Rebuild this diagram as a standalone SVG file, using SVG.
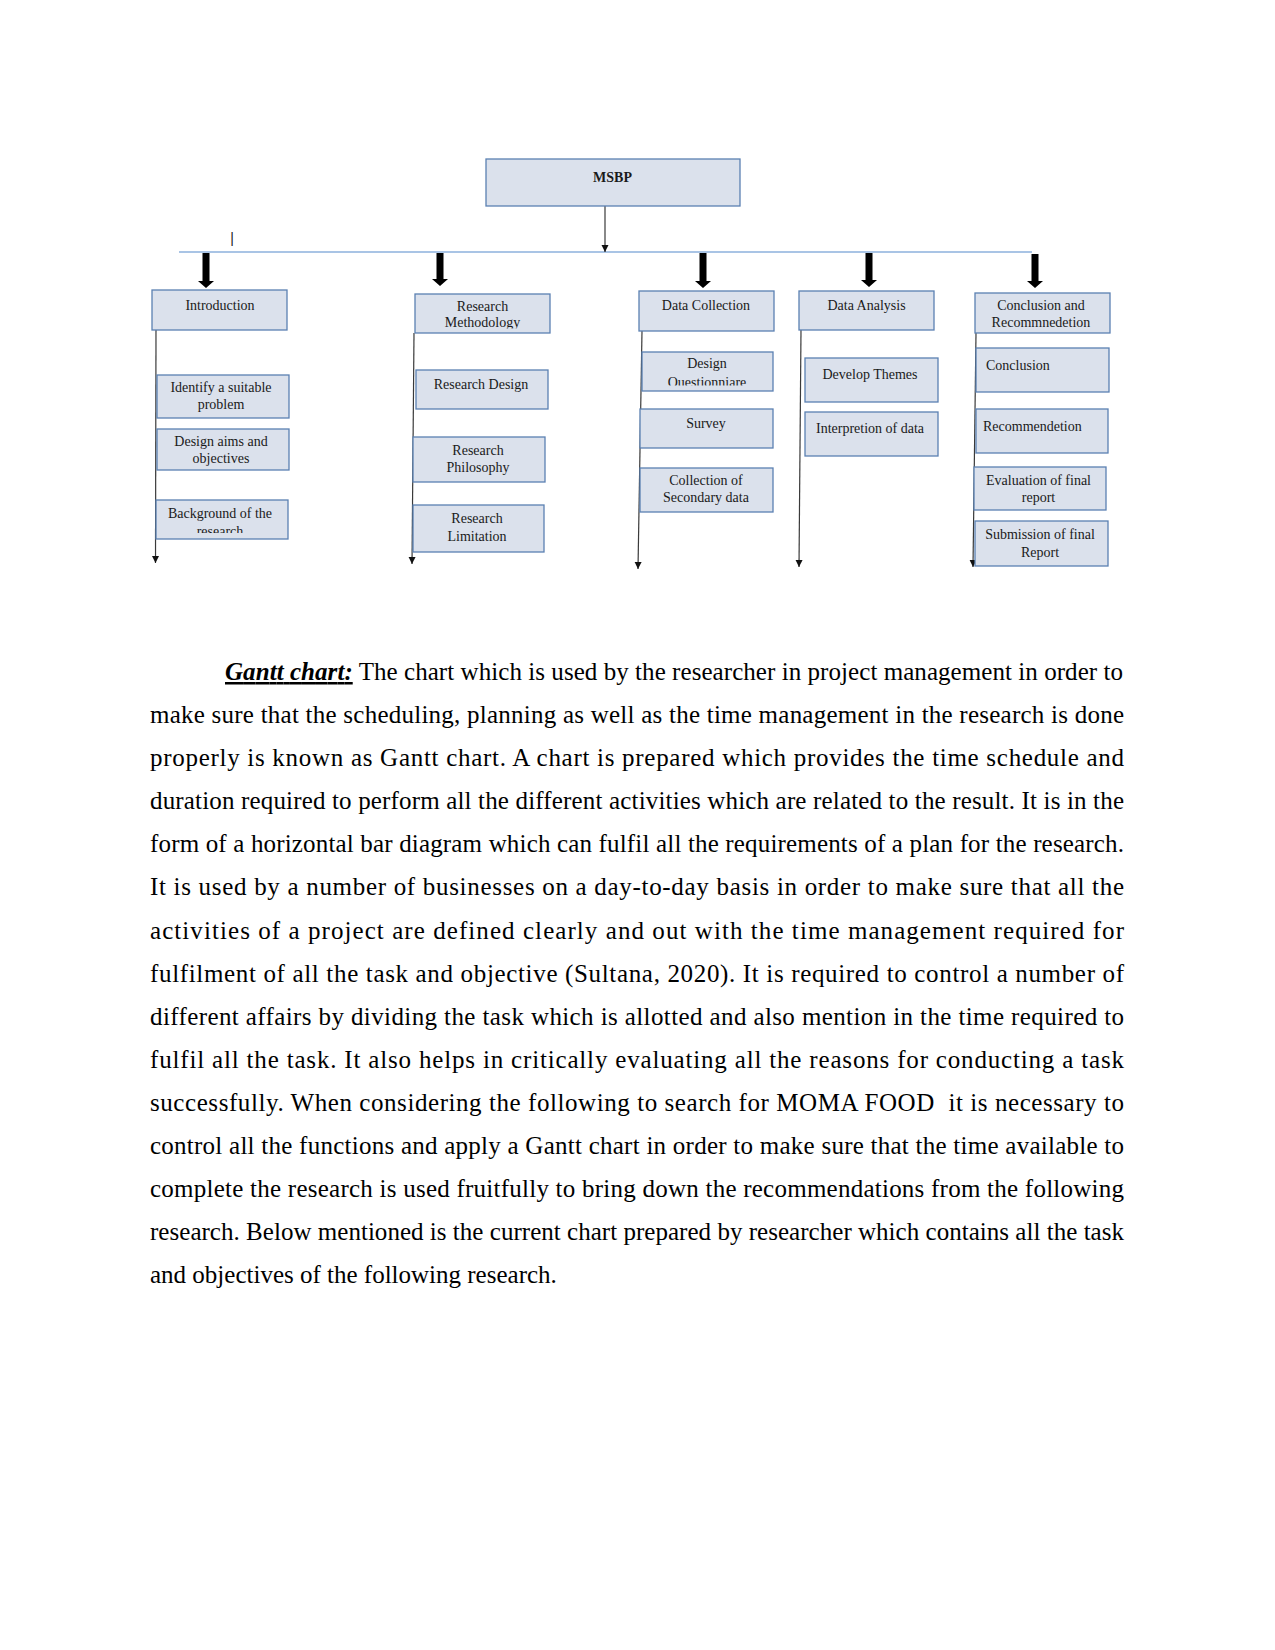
<svg xmlns="http://www.w3.org/2000/svg" width="1275" height="1650" viewBox="0 0 1275 1650">
<style>
.box{fill:#dbe1ec;stroke:#5b80b2;stroke-width:1.3}
.lbl{font-family:"Liberation Serif",serif;font-size:14px;fill:#1a1a1a;text-anchor:middle}
.lft{text-anchor:start}
.thin{stroke:#3a3a3a;stroke-width:1.2;fill:none;marker-end:url(#tip)}
.thick{fill:#000}
.para{font-family:"Liberation Serif",serif;font-size:25px;fill:#000}
</style>
<defs>
<marker id="tip" markerUnits="userSpaceOnUse" markerWidth="8" markerHeight="8" refX="7" refY="4" orient="auto">
<path d="M0,0.5 L7,4 L0,7.5 Z" fill="#111"/>
</marker>
<clipPath id="cRM"><rect x="415" y="294" width="135" height="34.5"/></clipPath>
<clipPath id="cBG"><rect x="156" y="500" width="132" height="33"/></clipPath>
<clipPath id="cDQ"><rect x="642" y="352" width="131" height="33.5"/></clipPath>
</defs>
<rect width="1275" height="1650" fill="#fff"/>

<g id="connectors">
<line x1="179" y1="252" x2="1032" y2="252" stroke="#8db0dc" stroke-width="1.5"/>
<line class="thin" x1="605" y1="206" x2="605" y2="252"/>
<path class="thick" d="M202.5,253 H209.5 V281 H214 L206,288 L198,281 H202.5 Z"/>
<path class="thick" d="M436.5,253 H443.5 V279 H448 L440,286 L432,279 H436.5 Z"/>
<path class="thick" d="M699.5,253 H706.5 V281 H711 L703,288 L695,281 H699.5 Z"/>
<path class="thick" d="M865.5,253 H872.5 V280 H877 L869,287 L861,280 H865.5 Z"/>
<path class="thick" d="M1031.5,254 H1038.5 V281 H1043 L1035,288 L1027,281 H1031.5 Z"/>
<line class="thin" x1="156" y1="330" x2="155.5" y2="563"/>
<line class="thin" x1="414" y1="333" x2="412" y2="564"/>
<line class="thin" x1="642" y1="331" x2="638" y2="569"/>
<line class="thin" x1="801" y1="330" x2="799" y2="567"/>
<line class="thin" x1="976" y1="333" x2="973" y2="567"/>
</g>

<text x="232" y="243" font-family="Liberation Sans,sans-serif" font-size="14" fill="#222" text-anchor="middle">|</text>

<g id="msbp"><rect class="box" x="486" y="159" width="254" height="47"/><text class="lbl" x="612.5" y="182" font-weight="bold">MSBP</text></g>

<g id="introduction"><rect class="box" x="152" y="290" width="135" height="40"/><text class="lbl" x="220" y="310">Introduction</text></g>
<g id="research-methodology"><rect class="box" x="415" y="294" width="135" height="39"/><g clip-path="url(#cRM)"><text class="lbl" x="482.5" y="310.5">Research</text><text class="lbl" x="482.5" y="327">Methodology</text></g></g>
<g id="data-collection"><rect class="box" x="639" y="291" width="135" height="40"/><text class="lbl" x="706" y="310">Data Collection</text></g>
<g id="data-analysis"><rect class="box" x="799" y="291" width="135" height="39"/><text class="lbl" x="866.5" y="310">Data Analysis</text></g>
<g id="conclusion-recommendation"><rect class="box" x="975" y="293" width="135" height="40"/><text class="lbl" x="1041" y="310">Conclusion and</text><text class="lbl" x="1041" y="327">Recommnedetion</text></g>

<g id="identify-problem"><rect class="box" x="157" y="375" width="132" height="43"/><text class="lbl" x="221" y="392">Identify a suitable</text><text class="lbl" x="221" y="409">problem</text></g>
<g id="design-aims"><rect class="box" x="157" y="429" width="132" height="41"/><text class="lbl" x="221" y="446">Design aims and</text><text class="lbl" x="221" y="463">objectives</text></g>
<g id="background"><rect class="box" x="156" y="500" width="132" height="39"/><g clip-path="url(#cBG)"><text class="lbl" x="220" y="517.5">Background of the</text><text class="lbl" x="220" y="535.5">research</text></g></g>

<g id="research-design"><rect class="box" x="416" y="370" width="132" height="39"/><text class="lbl" x="481" y="389">Research Design</text></g>
<g id="research-philosophy"><rect class="box" x="413" y="437" width="132" height="45"/><text class="lbl" x="478" y="455">Research</text><text class="lbl" x="478" y="472">Philosophy</text></g>
<g id="research-limitation"><rect class="box" x="413" y="505" width="131" height="47"/><text class="lbl" x="477" y="523">Research</text><text class="lbl" x="477" y="540.5">Limitation</text></g>

<g id="design-questionnaire"><rect class="box" x="642" y="352" width="131" height="39"/><g clip-path="url(#cDQ)"><text class="lbl" x="707" y="368">Design</text><text class="lbl" x="707" y="387">Questionniare</text></g></g>
<g id="survey"><rect class="box" x="640" y="409" width="133" height="39"/><text class="lbl" x="706" y="427.5">Survey</text></g>
<g id="secondary-data"><rect class="box" x="640" y="468" width="133" height="44"/><text class="lbl" x="706" y="485">Collection of</text><text class="lbl" x="706" y="502">Secondary data</text></g>

<g id="develop-themes"><rect class="box" x="805" y="358" width="133" height="44"/><text class="lbl" x="870" y="379">Develop Themes</text></g>
<g id="interpretation"><rect class="box" x="805" y="412" width="133" height="44"/><text class="lbl" x="870" y="433">Interpretion of data</text></g>

<g id="conclusion"><rect class="box" x="976" y="348" width="133" height="44"/><text class="lbl lft" x="986" y="370">Conclusion</text></g>
<g id="recommendation"><rect class="box" x="976" y="409" width="132" height="44"/><text class="lbl lft" x="983" y="431">Recommendetion</text></g>
<g id="evaluation"><rect class="box" x="974" y="467" width="132" height="43"/><text class="lbl" x="1038.5" y="484.5">Evaluation of final</text><text class="lbl" x="1038.5" y="501.5">report</text></g>
<g id="submission"><rect class="box" x="975" y="521" width="133" height="45"/><text class="lbl" x="1040" y="539">Submission of final</text><text class="lbl" x="1040" y="556.5">Report</text></g>

<g id="paragraph" class="para">
<text x="225" y="680" textLength="898" lengthAdjust="spacing"><tspan font-weight="bold" font-style="italic" text-decoration="underline">Gantt chart:</tspan> The chart which is used by the researcher in project management in order to</text>
<text x="150" y="723.1" textLength="974" lengthAdjust="spacing">make sure that the scheduling, planning as well as the time management in the research is done</text>
<text x="150" y="766.2" textLength="974" lengthAdjust="spacing">properly is known as Gantt chart. A chart is prepared which provides the time schedule and</text>
<text x="150" y="809.2" textLength="974" lengthAdjust="spacing">duration required to perform all the different activities which are related to the result. It is in the</text>
<text x="150" y="852.3" textLength="974" lengthAdjust="spacing">form of a horizontal bar diagram which can fulfil all the requirements of a plan for the research.</text>
<text x="150" y="895.4" textLength="974" lengthAdjust="spacing">It is used by a number of businesses on a day-to-day basis in order to make sure that all the</text>
<text x="150" y="938.5" textLength="974" lengthAdjust="spacing">activities of a project are defined clearly and out with the time management required for</text>
<text x="150" y="981.6" textLength="974" lengthAdjust="spacing">fulfilment of all the task and objective (Sultana, 2020). It is required to control a number of</text>
<text x="150" y="1024.6" textLength="974" lengthAdjust="spacing">different affairs by dividing the task which is allotted and also mention in the time required to</text>
<text x="150" y="1067.7" textLength="974" lengthAdjust="spacing">fulfil all the task. It also helps in critically evaluating all the reasons for conducting a task</text>
<text x="150" y="1110.8" textLength="974" lengthAdjust="spacing">successfully. When considering the following to search for MOMA FOOD&#160; it is necessary to</text>
<text x="150" y="1153.9" textLength="974" lengthAdjust="spacing">control all the functions and apply a Gantt chart in order to make sure that the time available to</text>
<text x="150" y="1197" textLength="974" lengthAdjust="spacing">complete the research is used fruitfully to bring down the recommendations from the following</text>
<text x="150" y="1240" textLength="974" lengthAdjust="spacing">research. Below mentioned is the current chart prepared by researcher which contains all the task</text>
<text x="150" y="1283.1">and objectives of the following research.</text>
</g>
</svg>
